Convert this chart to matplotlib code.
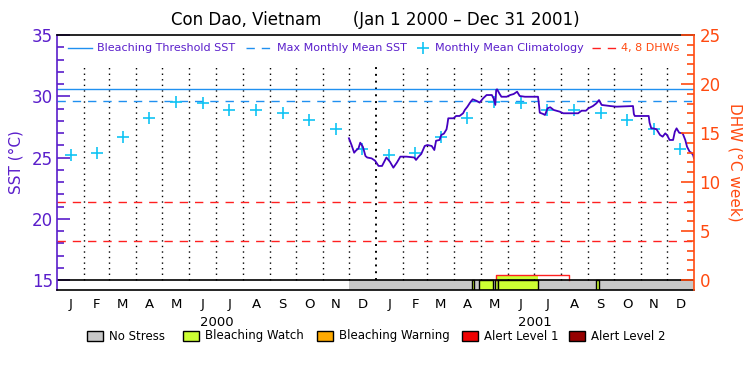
import matplotlib
matplotlib.use("Agg")
import matplotlib.pyplot as plt
import numpy as np
from matplotlib.lines import Line2D
from matplotlib.patches import Rectangle

# monthly mean climatology (Jan..Dec), plotted at mid month for both years
clim_vals = [25.2, 25.35, 26.65, 28.2, 29.55, 29.45, 28.85, 28.85, 28.65, 28.05, 27.35, 25.7]
mmm = 29.6
threshold = 30.6
dhw_levels = [4, 8]

# satellite SST, day number counted from Jan 1 2000
sst_day = [335, 338, 341, 343, 346, 348, 351, 354, 356, 361, 365, 369, 373, 378, 382,
           386, 390, 394, 401, 410, 412, 415, 418, 422, 425, 430, 433, 435, 439, 441,
           444, 447, 448, 449, 455, 458, 462, 466, 468, 471, 474, 477, 481, 485, 489,
           493, 499, 501, 503, 504, 505, 508, 510, 516, 520, 524, 528, 531, 537, 552,
           553, 554, 558, 560, 563, 566, 570, 577, 581, 598, 602, 607, 610, 615, 619,
           622, 625, 635, 642, 661, 662, 663, 679, 680, 682, 684, 688, 692, 695, 698,
           700, 703, 707, 709, 711, 714, 718, 721, 723, 726, 728, 730, 731]
sst_val = [26.57, 26.02, 25.39, 25.56, 25.75, 26.21, 25.88, 25.12, 25.0, 24.93, 24.74, 24.31, 24.31, 25.0, 24.66,
           24.17, 24.58, 25.07, 25.07, 25.0, 24.8, 25.07, 25.29, 25.94, 26.02, 25.94, 25.61, 26.37, 26.43, 26.84,
           26.95, 27.3, 27.7, 28.2, 28.2, 28.39, 28.39, 28.61, 28.88, 29.15, 29.48, 29.75, 29.64, 29.48, 29.83,
           30.1, 30.1, 29.83, 29.29, 30.51, 30.57, 30.18, 29.96, 29.96, 30.1, 30.18, 30.37, 30.02, 29.96, 29.96,
           29.37, 28.66, 28.55, 28.47, 29.02, 29.1, 28.88, 28.74, 28.61, 28.61, 28.82, 28.82, 29.02, 29.2, 29.42,
           29.69, 29.29, 29.2, 29.15, 29.2, 28.55, 28.39, 28.39, 27.84, 27.38, 27.38, 27.3, 26.84, 26.7, 26.97,
           26.84, 26.43, 26.43, 27.1, 27.38, 27.02, 26.97, 26.43, 25.88, 25.47, 25.39, 25.2, 24.93]

# degree heating weeks
dhw_day = [504, 588]
dhw_val = 0.5
dhw_watch_end = 552

# bleaching stress bar
nostress_span = (335, 731)
watch_spans = [(476, 479), (484, 500), (503, 506), (506, 552), (619, 622)]

month_letters = ["J", "F", "M", "A", "M", "J", "J", "A", "S", "O", "N", "D"]
years = ["2000", "2001"]

purple = "#5a1ecb"
line_purple = "#4400c0"
blue = "#2090f0"
cyan = "#10c4f4"
red = "#ff2020"
orange = "#ff4a10"
c_none, c_watch, c_warn, c_al1, c_al2 = "#c8c8c8", "#ccff33", "#ffaa00", "#ee0000", "#960000"

months = np.arange("2000-01", "2002-02", dtype="datetime64[M]")
mstart = (months.astype("datetime64[D]") - np.datetime64("2000-01-01")).astype(int)
mid = (mstart[:-1] + mstart[1:]) / 2.0

fig = plt.figure(figsize=(7.5, 3.75), dpi=100)
ax = fig.add_axes([57 / 750, 1 - 290 / 375, 637 / 750, 255 / 375])
ybot = 15 - 10 / 12.25
ax.set_xlim(0, 731)
ax.set_ylim(ybot, 35)

# vertical month lines
for i, d in enumerate(mstart[1:-1]):
    if d == 366:
        ax.plot([d, d], [15, 32.6], color="black", lw=1.4, ls=(0, (1, 2.5)))
    else:
        ax.plot([d, d], [15, 32.6], color="black", lw=1.0, ls=(0, (1, 3)))

ax.axhline(threshold, color=blue, lw=1)
ax.axhline(mmm, color=blue, lw=1, ls=(0, (6, 5)))
for lv in dhw_levels:
    ax.axhline(15 + lv * 0.8, color=red, lw=1, ls=(0, (6, 5)))

ax.plot(mid, clim_vals * 2, ls="none", marker="+", ms=9, mew=1.2, color=cyan)
ax.plot(sst_day, sst_val, color=line_purple, lw=1.3)

# DHW bar
ax.fill_between([dhw_day[0], dhw_watch_end], 15, 15 + dhw_val * 0.8, color=c_watch, lw=0)
ax.plot([dhw_day[0], dhw_day[0], dhw_day[1], dhw_day[1]],
        [15, 15 + dhw_val * 0.8, 15 + dhw_val * 0.8, 15], color=red, lw=1)

# stress bar
ax.broken_barh([(nostress_span[0], nostress_span[1] - nostress_span[0])], (ybot, 15 - ybot),
               facecolor=c_none, edgecolor="none")
ax.broken_barh([(a, b - a) for a, b in watch_spans], (ybot, 15 - ybot),
               facecolor=c_watch, edgecolor="black", lw=1)
ax.axhline(15, color="black", lw=1.2)

ax.set_xticks([])
ax.yaxis.set_major_locator(plt.FixedLocator(np.arange(15, 36, 5)))
ax.yaxis.set_minor_locator(plt.FixedLocator(np.arange(15, 36, 1)))
ax.tick_params(axis="y", which="major", direction="in", length=9.5, width=1.2,
               color=purple, labelcolor=purple, labelsize=12, pad=3)
ax.tick_params(axis="y", which="minor", direction="in", length=5, width=1.2, color=purple)
ax.spines["left"].set_color(purple)
ax.spines["left"].set_linewidth(1.2)
ax.spines["right"].set_visible(False)
ax.spines["top"].set_linewidth(1.2)
ax.spines["bottom"].set_linewidth(1.2)
ax.set_ylabel("SST (°C)", color=purple, fontsize=11, labelpad=6)

ax2 = ax.twinx()
ax2.set_ylim((ybot - 15) / 0.8, 25)
ax2.yaxis.set_major_locator(plt.FixedLocator(np.arange(0, 26, 5)))
ax2.yaxis.set_minor_locator(plt.FixedLocator(np.arange(0, 26, 1)))
ax2.tick_params(axis="y", which="major", direction="in", length=9.5, width=1.2,
                color=orange, labelcolor=orange, labelsize=12, pad=4)
ax2.tick_params(axis="y", which="minor", direction="in", length=5, width=1.2, color=orange)
for s in ["left", "top", "bottom"]:
    ax2.spines[s].set_visible(False)
ax2.spines["right"].set_color(orange)
ax2.spines["right"].set_linewidth(1.2)
ax2.set_ylabel("DHW (°C week)", color=orange, fontsize=11, rotation=270, labelpad=16)

# month and year labels
tr = ax.get_xaxis_transform()
for i, m in enumerate(mid):
    ax.text(m, -0.033, month_letters[i % 12], transform=tr, ha="center", va="top", fontsize=9.5)
for k, yr in enumerate(years):
    ax.text(mstart[12 * k] + (mstart[12 * k + 12] - mstart[12 * k]) / 2, -0.1, yr,
            transform=tr, ha="center", va="top", fontsize=9.5)

fig.text(375 / 750, 1 - 20 / 375, "Con Dao, Vietnam      (Jan 1 2000 \u2013 Dec 31 2001)",
         ha="center", va="center", fontsize=12)

# top legend
ly = 1 - 48 / 375
fig.add_artist(Line2D([68 / 750, 92 / 750], [ly, ly], color=blue, lw=1))
fig.text(97 / 750, ly, "Bleaching Threshold SST", color=purple, fontsize=8, va="center")
fig.add_artist(Line2D([246 / 750, 271 / 750], [ly, ly], color=blue, lw=1, ls=(0, (6, 5))))
fig.text(277 / 750, ly, "Max Monthly Mean SST", color=purple, fontsize=8, va="center")
fig.add_artist(Line2D([423 / 750], [ly], color=cyan, marker="+", ms=8, mew=1.2))
fig.text(435 / 750, ly, "Monthly Mean Climatology", color=purple, fontsize=8, va="center")
fig.add_artist(Line2D([592 / 750, 617 / 750], [ly, ly], color=red, lw=1, ls=(0, (6, 5))))
fig.text(621 / 750, ly, "4, 8 DHWs", color=orange, fontsize=8, va="center")

# bottom stress legend
by = 1 - 336 / 375
items = [(87, c_none, "No Stress"), (183, c_watch, "Bleaching Watch"), (317, c_warn, "Bleaching Warning"),
         (462, c_al1, "Alert Level 1"), (569, c_al2, "Alert Level 2")]
for x0, c, lab in items:
    fig.add_artist(Rectangle((x0 / 750, by - 5 / 375), 16 / 750, 10 / 375, facecolor=c,
                             edgecolor="black", lw=1, transform=fig.transFigure))
    fig.text((x0 + 22) / 750, by, lab, fontsize=8.5, va="center")

fig.savefig("out.png", dpi=100)
